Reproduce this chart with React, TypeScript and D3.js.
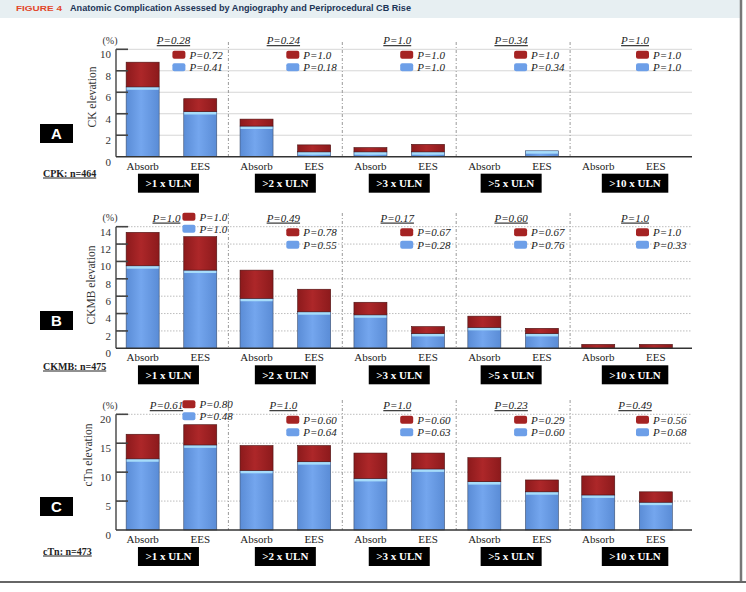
import React, { useEffect, useRef } from 'react';
import * as d3 from 'd3';

const categories = ['Absorb', 'EES'];
const ulnLabels = ['>1 x ULN', '>2 x ULN', '>3 x ULN', '>5 x ULN', '>10 x ULN'];

// Panel A - CPK (blue = lower segment, red = stacked segment), order: group x category
const cpkBlue = [6.5, 4.2, 2.85, 0.45, 0.45, 0.45, 0, 0.55, 0, 0];
const cpkRed = [2.3, 1.2, 0.65, 0.65, 0.4, 0.7, 0, 0, 0, 0];
const cpkGroupP = ['P=0.28', 'P=0.24', 'P=1.0', 'P=0.34', 'P=1.0'];
const cpkRedP = ['P=0.72', 'P=1.0', 'P=1.0', 'P=1.0', 'P=1.0'];
const cpkBlueP = ['P=0.41', 'P=0.18', 'P=1.0', 'P=0.34', 'P=1.0'];
const cpkTicks = [0, 2, 4, 6, 8, 10];

// Panel B - CKMB
const ckmbBlue = [9.5, 9.0, 5.75, 4.2, 3.85, 1.7, 2.4, 1.7, 0, 0];
const ckmbRed = [3.85, 3.85, 3.25, 2.6, 1.45, 0.8, 1.3, 0.6, 0.45, 0.45];
const ckmbGroupP = ['P=1.0', 'P=0.49', 'P=0.17', 'P=0.60', 'P=1.0'];
const ckmbRedP = ['P=1.0', 'P=0.78', 'P=0.67', 'P=0.67', 'P=1.0'];
const ckmbBlueP = ['P=1.0', 'P=0.55', 'P=0.28', 'P=0.76', 'P=0.33'];
const ckmbTicks = [0, 2, 4, 6, 8, 10, 12, 14];

// Panel C - cTn
const ctnBlue = [12.3, 14.7, 10.3, 11.8, 8.9, 10.55, 8.35, 6.6, 6.05, 4.8];
const ctnRed = [4.25, 3.5, 4.3, 2.8, 4.4, 2.75, 4.15, 2.05, 3.3, 1.8];
const ctnGroupP = ['P=0.61', 'P=1.0', 'P=1.0', 'P=0.23', 'P=0.49'];
const ctnRedP = ['P=0.80', 'P=0.60', 'P=0.60', 'P=0.29', 'P=0.56'];
const ctnBlueP = ['P=0.48', 'P=0.64', 'P=0.63', 'P=0.60', 'P=0.68'];
const ctnTicks = [0, 5, 10, 15, 20];

const W = 746;
const H = 592;
const AXIS_X = 116;
const AXIS_END = 692;
const SERIF = '"Liberation Serif", "Times New Roman", serif';
const SANS = '"Liberation Sans", Arial, sans-serif';

const panels = [
  {
    letter: 'A', sample: 'CPK: n=464', yTitle: 'CK elevation',
    blue: cpkBlue, red: cpkRed, groupP: cpkGroupP, redP: cpkRedP, blueP: cpkBlueP, ticks: cpkTicks,
    base: 156.7, top: 49.3, sepTop: 42, letterY: 124, sampleY: 173, yTitleX: 92, yTitleY: 97,
    dotted: false, raisedFirst: false,
  },
  {
    letter: 'B', sample: 'CKMB: n=475', yTitle: 'CKMB elevation',
    blue: ckmbBlue, red: ckmbRed, groupP: ckmbGroupP, redP: ckmbRedP, blueP: ckmbBlueP, ticks: ckmbTicks,
    base: 348.3, top: 226.7, sepTop: 213, letterY: 311, sampleY: 366, yTitleX: 91, yTitleY: 285,
    dotted: true, raisedFirst: true,
  },
  {
    letter: 'C', sample: 'cTn: n=473', yTitle: 'cTn  elevation',
    blue: ctnBlue, red: ctnRed, groupP: ctnGroupP, redP: ctnRedP, blueP: ctnBlueP, ticks: ctnTicks,
    base: 530, top: 414.3, sepTop: 400, letterY: 497, sampleY: 551, yTitleX: 88, yTitleY: 455,
    dotted: true, raisedFirst: true,
  },
];

const App: React.FC = () => {
  const ref = useRef<SVGSVGElement | null>(null);

  useEffect(() => {
    if (!ref.current) return;
    const svg = d3.select(ref.current);
    svg.selectAll('*').remove();

    // gradients for the glossy bars
    const defs = svg.append('defs');
    const grad = (id: string, edge: string, mid: string) => {
      const lg = defs.append('linearGradient').attr('id', id).attr('x1', '0').attr('x2', '1').attr('y1', '0').attr('y2', '0');
      lg.append('stop').attr('offset', '0%').attr('stop-color', edge);
      lg.append('stop').attr('offset', '45%').attr('stop-color', mid);
      lg.append('stop').attr('offset', '100%').attr('stop-color', edge);
    };
    grad('gBlue', '#5a8cd6', '#74a6ee');
    grad('gRed', '#8c1a1c', '#ad2729');

    // frame + title bar
    svg.append('rect').attr('x', 0).attr('y', 0).attr('width', 741).attr('height', 18).attr('fill', '#e7eff2');
    svg.append('line').attr('x1', 741).attr('x2', 741).attr('y1', 0).attr('y2', 581)
      .attr('stroke', '#777').attr('stroke-width', 2.5);
    svg.append('line').attr('x1', 0).attr('x2', W).attr('y1', 582).attr('y2', 582)
      .attr('stroke', '#333').attr('stroke-width', 1.5);
    svg.append('text').attr('x', 16).attr('y', 10.5).text('FIGURE 4')
      .attr('fill', '#e2472b').style('font-family', SANS).style('font-weight', 700)
      .style('font-size', '8px').attr('textLength', 46).attr('lengthAdjust', 'spacingAndGlyphs');
    svg.append('text').attr('x', 70).attr('y', 10.5)
      .text('Anatomic Complication Assessed by Angiography and Periprocedural CB Rise')
      .attr('fill', '#1d3557').style('font-family', SANS).style('font-weight', 700)
      .style('font-size', '8.5px').attr('textLength', 341).attr('lengthAdjust', 'spacingAndGlyphs');

    const x0 = d3.scaleBand<string>().domain(ulnLabels).range([114.5, 684]);
    const x1 = d3.scaleBand<string>().domain(categories).range([0, x0.bandwidth()])
      .paddingInner(0.427).paddingOuter(0.202);
    const boxShift = [-3, 0, 0, -2, 8];
    const headShift = [2, -2, -2, -2, 8];

    panels.forEach((p) => {
      const y = d3.scaleLinear().domain([0, p.ticks[p.ticks.length - 1]]).range([p.base, p.top]);
      const g = svg.append('g');

      // gridlines
      g.selectAll('.grid').data(p.ticks.filter((t) => t > 0)).enter().append('line')
        .attr('x1', AXIS_X).attr('x2', AXIS_END).attr('y1', (d) => y(d)).attr('y2', (d) => y(d))
        .attr('stroke', p.dotted ? '#bdbdbd' : '#d6d6d6').attr('stroke-width', 1)
        .attr('stroke-dasharray', p.dotted ? '1.5,1.5' : null);

      // group separators
      g.selectAll('.sep').data(ulnLabels.slice(1)).enter().append('line')
        .attr('x1', (d) => x0(d)!).attr('x2', (d) => x0(d)!)
        .attr('y1', p.sepTop).attr('y2', p.base)
        .attr('stroke', '#9a9a9a').attr('stroke-width', 1).attr('stroke-dasharray', '3,2,1,2');

      // bars
      const rows = ulnLabels.flatMap((u, gi) => categories.map((c, ci) => ({
        u, c, blue: p.blue[gi * 2 + ci], red: p.red[gi * 2 + ci],
      })));
      const bw = x1.bandwidth();
      rows.forEach((r) => {
        const bx = x0(r.u)! + x1(r.c)!;
        if (r.blue > 0) {
          g.append('rect').attr('x', bx).attr('width', bw)
            .attr('y', y(r.blue)).attr('height', y(0) - y(r.blue))
            .attr('fill', 'url(#gBlue)').attr('stroke', '#3c4f6e').attr('stroke-width', 0.6);
          g.append('rect').attr('x', bx + 0.5).attr('width', bw - 1)
            .attr('y', y(r.blue) + 0.3).attr('height', Math.min(2.6, y(0) - y(r.blue)))
            .attr('fill', '#a6dcfa');
        }
        if (r.red > 0) {
          g.append('rect').attr('x', bx).attr('width', bw)
            .attr('y', y(r.blue + r.red)).attr('height', y(r.blue) - y(r.blue + r.red))
            .attr('fill', 'url(#gRed)').attr('stroke', '#4a1010').attr('stroke-width', 0.6);
        }
      });

      // axes
      g.append('line').attr('x1', AXIS_X).attr('x2', AXIS_X).attr('y1', y.range()[1]).attr('y2', p.base)
        .attr('stroke', '#333').attr('stroke-width', 1.3);
      g.append('line').attr('x1', AXIS_X).attr('x2', AXIS_END).attr('y1', p.base).attr('y2', p.base)
        .attr('stroke', '#333').attr('stroke-width', 1.6);
      g.selectAll('.tick').data(p.ticks.filter((t) => t > 0)).enter().append('line')
        .attr('x1', AXIS_X).attr('x2', AXIS_X + 12).attr('y1', (d) => y(d)).attr('y2', (d) => y(d))
        .attr('stroke', '#444').attr('stroke-width', 1.6);
      g.selectAll('.tl').data(p.ticks).enter().append('text')
        .attr('x', AXIS_X - 5).attr('y', (d) => y(d) + 5).attr('dy', '0.35em')
        .attr('text-anchor', 'end').text((d) => d)
        .attr('fill', '#333').style('font-family', SERIF).style('font-size', '11px');
      g.append('text').attr('x', 110).attr('y', p.top - 9).attr('dy', '0.35em')
        .attr('text-anchor', 'middle').text('(%)')
        .attr('fill', '#333').style('font-family', SERIF).style('font-size', '10px');
      g.append('text').attr('transform', `translate(${p.yTitleX},${p.yTitleY}) rotate(-90)`)
        .attr('text-anchor', 'middle').attr('dy', '0.35em').text(p.yTitle)
        .attr('fill', '#333').style('font-family', SERIF).style('font-size', '11.5px');

      // category labels
      rows.forEach((r) => {
        g.append('text').attr('x', x0(r.u)! + x1(r.c)! + bw / 2).attr('y', p.base + 13)
          .attr('text-anchor', 'middle').text(r.c)
          .attr('fill', '#222').style('font-family', SERIF).style('font-size', '11px');
      });

      // ULN boxes
      ulnLabels.forEach((u, gi) => {
        const cx = x0(u)! + x0.bandwidth() / 2 + boxShift[gi];
        const bg = g.append('g');
        const rect = bg.append('rect').attr('y', p.base + 17).attr('height', 19).attr('fill', '#000');
        const t = bg.append('text').attr('x', cx).attr('y', p.base + 26.5).attr('dy', '0.35em')
          .attr('text-anchor', 'middle').text(u).attr('fill', '#fff')
          .style('font-family', SERIF).style('font-weight', 700).style('font-size', '11px');
        const tw = (t.node() as SVGTextElement).getComputedTextLength();
        rect.attr('x', cx - (tw + 15) / 2).attr('width', tw + 15);
      });

      // p-value headers and legends
      ulnLabels.forEach((u, gi) => {
        const raised = p.raisedFirst && gi === 0;
        const hx = x0(u)! + x0.bandwidth() / 2 + headShift[gi] + (raised ? -7 : 0);
        g.append('text').attr('x', hx).attr('y', p.top - 9).attr('dy', '0.35em')
          .attr('text-anchor', 'middle').text(p.groupP[gi]).attr('fill', '#222')
          .style('font-family', SERIF).style('font-style', 'italic').style('font-size', '11px')
          .style('text-decoration', 'underline');

        const right = gi < 4 ? x0(ulnLabels[gi + 1])! : AXIS_END;
        const sx = right - (raised ? 46 : 56);
        const redY = raised ? p.top - 10 : p.top + 5.5;
        const blueY = raised ? p.top + 2 : p.top + 18;
        [
          { yy: redY, fill: '#a52323', label: p.redP[gi] },
          { yy: blueY, fill: '#6d9fe8', label: p.blueP[gi] },
        ].forEach((l) => {
          g.append('rect').attr('x', sx).attr('y', l.yy - 4).attr('width', 13).attr('height', 8)
            .attr('rx', 2).attr('fill', l.fill);
          g.append('text').attr('x', sx + 17).attr('y', l.yy).attr('dy', '0.35em').text(l.label)
            .attr('fill', '#222').style('font-family', SERIF).style('font-style', 'italic')
            .style('font-size', '11px');
        });
      });

      // panel letter and sample size
      g.append('rect').attr('x', 40).attr('y', p.letterY).attr('width', 33).attr('height', 19).attr('fill', '#000');
      g.append('text').attr('x', 56.5).attr('y', p.letterY + 9.5).attr('dy', '0.36em')
        .attr('text-anchor', 'middle').text(p.letter).attr('fill', '#fff')
        .style('font-family', SANS).style('font-weight', 700).style('font-size', '15px');
      g.append('text').attr('x', 43).attr('y', p.sampleY).attr('dy', '0.35em').text(p.sample)
        .attr('fill', '#222').style('font-family', SERIF).style('font-weight', 700)
        .style('font-size', '10px').style('text-decoration', 'underline');
    });
  }, []);

  return (
    <svg ref={ref} width={W} height={H}
      style={{ position: 'absolute', left: 0, top: 0, background: '#fff' }} />
  );
};

export default App;
